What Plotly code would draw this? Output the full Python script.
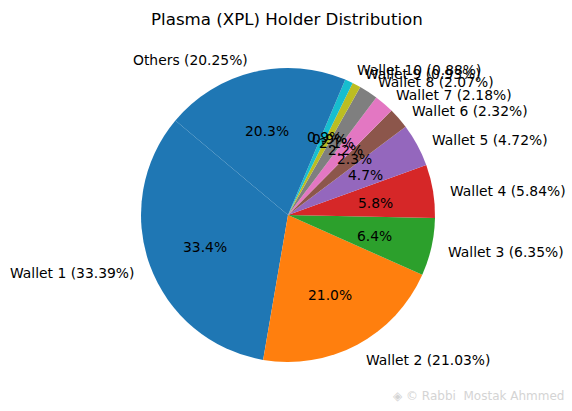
import math
import plotly.graph_objects as go

# data
labels = ["Wallet 1", "Wallet 2", "Wallet 3", "Wallet 4", "Wallet 5", "Wallet 6",
          "Wallet 7", "Wallet 8", "Wallet 9", "Wallet 10", "Others"]
shares = [33.39, 21.03, 6.35, 5.84, 4.72, 2.32, 2.18, 2.07, 0.93, 0.88, 20.25]
colors = ["#1f77b4", "#ff7f0e", "#2ca02c", "#d62728", "#9467bd", "#8c564b",
          "#e377c2", "#7f7f7f", "#bcbd22", "#17becf", "#1f77b4"]

W, H = 572, 411
cx, cy, r = 288, 215, 147   # pie centre / radius in pixels (from top-left)
start_angle = 140           # counterclockwise, like matplotlib's startangle
font = "DejaVu Sans"
total = sum(shares)

# plotly's counterclockwise pies put `rotation` at the end of the first slice
first_end = start_angle + 360 * shares[0] / total
fig = go.Figure()
fig.add_trace(go.Pie(
    labels=labels,
    values=shares,
    sort=False,
    direction="counterclockwise",
    rotation=90 - first_end,
    marker=dict(colors=colors, line=dict(width=0)),
    textinfo="none",
    hoverinfo="label+percent",
    showlegend=False,
    domain=dict(x=[(cx - r) / W, (cx + r) / W], y=[(H - cy - r) / H, (H - cy + r) / H]),
))


def to_paper(px, py):
    return px / W, 1 - py / H


# matplotlib style labels: name outside at 1.1 r, percent inside at 0.6 r
theta = start_angle
for name, v in zip(labels, shares):
    frac = v / total
    mid = math.radians(theta + frac * 180)
    theta += frac * 360
    lx = cx + 1.1 * r * math.cos(mid)
    ly = cy - 1.1 * r * math.sin(mid)
    x, y = to_paper(lx, ly)
    fig.add_annotation(x=x, y=y, xref="paper", yref="paper", showarrow=False, yshift=-2,
                       text=f"{name} ({v:.2f}%)", xanchor="left" if lx > cx else "right",
                       yanchor="middle", font=dict(family=font, size=13.89, color="black"))
    px_ = cx + 0.6 * r * math.cos(mid)
    py_ = cy - 0.6 * r * math.sin(mid)
    x, y = to_paper(px_, py_)
    fig.add_annotation(x=x, y=y, xref="paper", yref="paper", showarrow=False, yshift=-2,
                       text=f"{frac * 100:.1f}%", xanchor="center", yanchor="middle",
                       font=dict(family=font, size=13.89, color="black"))

fig.add_annotation(x=287 / W, y=1 - 19 / H, xref="paper", yref="paper", showarrow=False,
                   text="Plasma (XPL) Holder Distribution", xanchor="center", yanchor="middle",
                   font=dict(family=font, size=16.67, color="black"))

# faint watermark from the screenshot
fig.add_annotation(x=566 / W, y=1 - 396 / H, xref="paper", yref="paper", showarrow=False,
                   text="◈ © Rabbi  Mostak Ahmmed", xanchor="right", yanchor="middle",
                   font=dict(family=font, size=12, color="#d4d4d4"))

fig.update_layout(width=W, height=H, margin=dict(l=0, r=0, t=0, b=0),
                  paper_bgcolor="white", plot_bgcolor="white")

# drop the page's default body margin so the figure sits at the window corner
fig.write_html("out.html", config={"displayModeBar": False},
               post_script="document.body.style.margin='0';")
